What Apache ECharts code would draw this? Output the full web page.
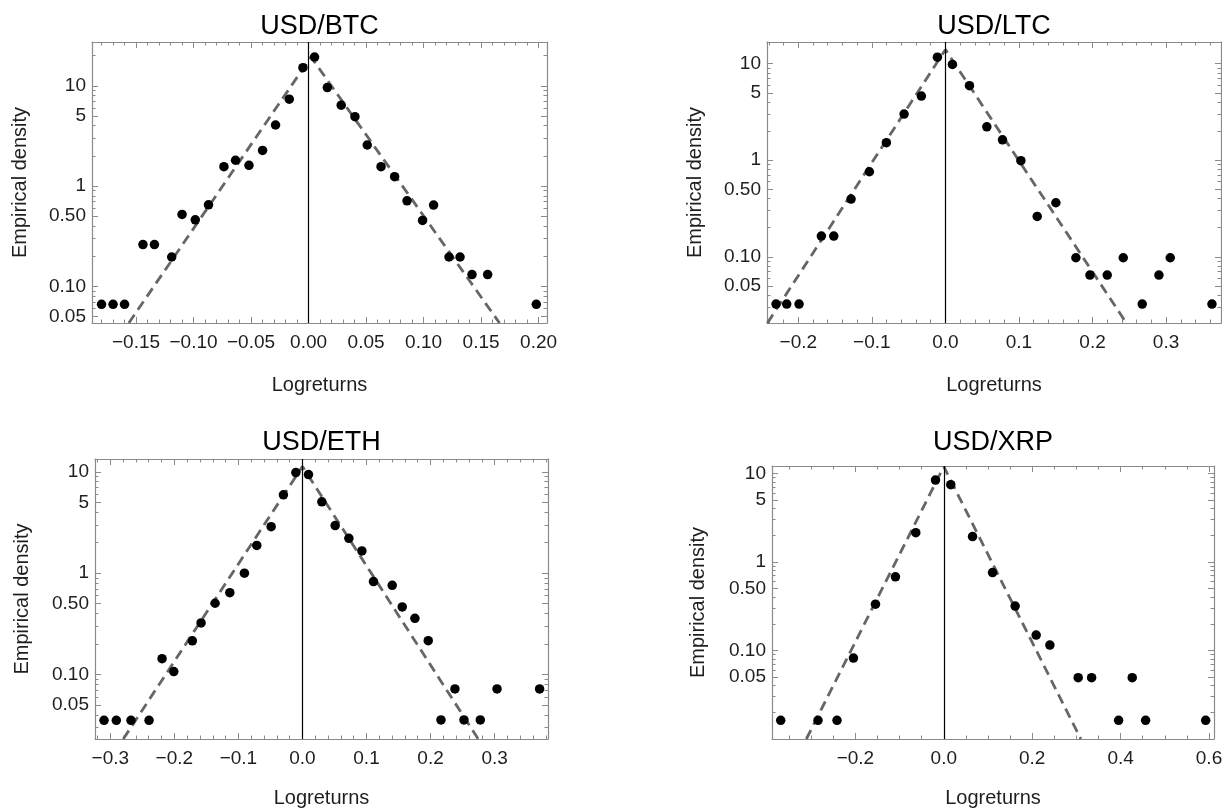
<!DOCTYPE html>
<html><head><meta charset="utf-8">
<script src="https://cdn.jsdelivr.net/npm/echarts@6/dist/echarts.min.js"></script>
<style>html,body{margin:0;padding:0;background:#fff}#c{width:1222px;height:811px}</style>
</head><body><div id="c"></div>
<script>
// ---------- DATA ----------
const btcX = [-0.180, -0.170, -0.160, -0.144, -0.134, -0.119, -0.110, -0.0985, -0.087, -0.0736, -0.0635, -0.0518, -0.040, -0.0287, -0.0168, -0.0049, 0.0052, 0.0163, 0.0284, 0.0403, 0.051, 0.063, 0.0748, 0.0856, 0.0991, 0.1087, 0.1221, 0.1317, 0.1421, 0.1557, 0.198];
const btcY = [0.066, 0.066, 0.066, 0.261, 0.261, 0.196, 0.521, 0.461, 0.650, 1.56, 1.81, 1.61, 2.27, 4.07, 7.36, 15.2, 19.4, 9.62, 6.41, 4.93, 2.57, 1.56, 1.24, 0.713, 0.454, 0.646, 0.196, 0.196, 0.131, 0.131, 0.066];
const btcFitX = [-0.1563, 0.0021, 0.166];
const btcFitY = [0.043, 19.4, 0.043];

const ltcX = [-0.2303, -0.2158, -0.199, -0.1687, -0.1518, -0.1283, -0.1034, -0.0803, -0.0562, -0.0327, -0.0109, 0.0095, 0.0327, 0.0563, 0.0776, 0.1026, 0.1248, 0.1502, 0.1774, 0.1965, 0.220, 0.2418, 0.2676, 0.2903, 0.3057, 0.3624];
const ltcY = [0.0324, 0.0324, 0.0324, 0.164, 0.164, 0.396, 0.760, 1.52, 3.01, 4.62, 11.7, 9.84, 5.92, 2.22, 1.63, 0.989, 0.262, 0.363, 0.0977, 0.0646, 0.0646, 0.0977, 0.0324, 0.0646, 0.0977, 0.0324];
const ltcFitX = [-0.242, 0.0, 0.246];
const ltcFitY = [0.0206, 14.0, 0.0206];

const ethX = [-0.3098, -0.2906, -0.2677, -0.2395, -0.2192, -0.2009, -0.1719, -0.1583, -0.1364, -0.1134, -0.0906, -0.0713, -0.0489, -0.0297, -0.0103, 0.0094, 0.0303, 0.0511, 0.0725, 0.0928, 0.1109, 0.1402, 0.1558, 0.1756, 0.1964, 0.2163, 0.2381, 0.2522, 0.2777, 0.3038, 0.3703];
const ethY = [0.0353, 0.0353, 0.0353, 0.0353, 0.1435, 0.107, 0.215, 0.323, 0.505, 0.643, 1.00, 1.88, 2.88, 5.93, 9.84, 9.40, 5.06, 2.95, 2.21, 1.66, 0.826, 0.760, 0.465, 0.359, 0.216, 0.0356, 0.0721, 0.0356, 0.0356, 0.0721, 0.0721];
const ethFitX = [-0.2797, 0.0, 0.2745];
const ethFitY = [0.0231, 11.3, 0.0231];

const xrpX = [-0.369, -0.2846, -0.2416, -0.2044, -0.1546, -0.1094, -0.0634, -0.0188, 0.0158, 0.065, 0.1103, 0.1614, 0.209, 0.240, 0.304, 0.3344, 0.3955, 0.4263, 0.4566, 0.5925];
const xrpY = [0.01625, 0.01625, 0.01625, 0.082, 0.333, 0.678, 2.14, 8.4, 7.44, 1.93, 0.757, 0.317, 0.149, 0.115, 0.0492, 0.0492, 0.01625, 0.0492, 0.01625, 0.01625];
const xrpFitX = [-0.311, 0.0, 0.310];
const xrpFitY = [0.01, 11.9, 0.01];

// tick labels
const btcXTicks = [-0.15, -0.10, -0.05, 0, 0.05, 0.10, 0.15, 0.20];
const btcXLabels = ['\u22120.15', '\u22120.10', '\u22120.05', '0.00', '0.05', '0.10', '0.15', '0.20'];
const ltcXTicks = [-0.2, -0.1, 0, 0.1, 0.2, 0.3];
const ltcXLabels = ['\u22120.2', '\u22120.1', '0.0', '0.1', '0.2', '0.3'];
const ethXTicks = [-0.3, -0.2, -0.1, 0, 0.1, 0.2, 0.3];
const ethXLabels = ['\u22120.3', '\u22120.2', '\u22120.1', '0.0', '0.1', '0.2', '0.3'];
const xrpXTicks = [-0.4, -0.2, 0, 0.2, 0.4, 0.6];
const xrpXLabels = ['\u22120.4', '\u22120.2', '0.0', '0.2', '0.4', '0.6'];
const yTicks = [0.05, 0.1, 0.5, 1, 5, 10];
const yLabels = ['0.05', '0.10', '0.50', '1', '5', '10'];
const titles = ['USD/BTC', 'USD/LTC', 'USD/ETH', 'USD/XRP'];
const xName = 'Logreturns';
const yName = 'Empirical density';

// ---------- LAYOUT ----------
const FONT = '"Liberation Sans", Arial, Helvetica, sans-serif';
const FRAME = '#8a8a8a';
const TXT = '#1e1e1e';
const panels = [
  { grid: {left: 92, top: 42, width: 455, height: 281}, xr: [-0.1883, 0.2073], yr: [0.043, 27.4], xt: btcXTicks, xl: btcXLabels, step: 0.01, x: btcX, y: btcY, fx: btcFitX, fy: btcFitY, tGap: 2, xGap: 52, yGap: 62 },
  { grid: {left: 767, top: 42, width: 454, height: 281}, xr: [-0.2426, 0.3747], yr: [0.0206, 16.8], xt: ltcXTicks, xl: ltcXLabels, step: 0.02, x: ltcX, y: ltcY, fx: ltcFitX, fy: ltcFitY, tGap: 2, xGap: 52, yGap: 62 },
  { grid: {left: 95, top: 459, width: 453, height: 280}, xr: [-0.3239, 0.3834], yr: [0.0231, 13.4], xt: ethXTicks, xl: ethXLabels, step: 0.02, x: ethX, y: ethY, fx: ethFitX, fy: ethFitY, tGap: 3, xGap: 49, yGap: 63 },
  { grid: {left: 772, top: 466, width: 442, height: 273}, xr: [-0.3887, 0.6113], yr: [0.0100, 12.1], xt: xrpXTicks, xl: xrpXLabels, step: 0.05, x: xrpX, y: xrpY, fx: xrpFitX, fy: xrpFitY, tGap: 10, xGap: 49, yGap: 64 }
];

// minor tick positions (axis decoration only)
const yMinor = [];
for (let k = -2; k <= 1; k++) for (let m = 1; m <= 9; m++) yMinor.push(+(m * Math.pow(10, k)).toPrecision(6));
function xMinor(p) {
  const out = [];
  const a = Math.ceil(p.xr[0] / p.step - 1e-9), b = Math.floor(p.xr[1] / p.step + 1e-9);
  for (let i = a; i <= b; i++) out.push(+(i * p.step).toFixed(6));
  return out;
}
function lookup(vals, labels) {
  return function (v) {
    for (let i = 0; i < vals.length; i++) {
      if (Math.abs(vals[i] - v) <= 1e-6 * Math.max(1e-3, Math.abs(vals[i]))) return labels[i];
    }
    return '';
  };
}

const grids = [], xAxes = [], yAxes = [], series = [];
panels.forEach((p, i) => {
  grids.push(Object.assign({ show: false, containLabel: false, outerBoundsMode: 'none' }, p.grid));
  const xin = xMinor(p);
  const mkX = (pos, vals, len, main, title) => ({
    type: 'value', gridIndex: i, position: pos, min: p.xr[0], max: p.xr[1],
    axisLine: { show: main || !!title, onZero: false, lineStyle: { color: FRAME, width: 1.2 } },
    axisTick: { show: true, inside: true, length: len, customValues: vals, lineStyle: { color: FRAME, width: 1 } },
    minorTick: { show: false }, splitLine: { show: false },
    axisLabel: main ? { show: true, customValues: p.xt, formatter: lookup(p.xt, p.xl), fontSize: 19, color: TXT, margin: 10, fontFamily: FONT } : { show: false },
    name: main ? xName : (title || ''), nameLocation: 'middle',
    nameGap: main ? p.xGap : p.tGap,
    nameTextStyle: main ? { fontSize: 20, color: TXT, fontFamily: FONT } : { fontSize: 27, color: '#000', fontFamily: FONT }
  });
  xAxes.push(mkX('bottom', p.xt, 6, true));
  xAxes.push(mkX('bottom', xin, 3.5, false));
  xAxes.push(mkX('top', p.xt, 6, false, titles[i]));
  xAxes.push(mkX('top', xin, 3.5, false));
  const mkY = (pos, vals, len, main, line) => ({
    type: 'log', logBase: 10, gridIndex: i, position: pos, min: p.yr[0], max: p.yr[1],
    axisLine: { show: line, onZero: false, lineStyle: { color: FRAME, width: 1.2 } },
    axisTick: { show: true, inside: true, length: len, customValues: vals, lineStyle: { color: FRAME, width: 1 } },
    minorTick: { show: false }, splitLine: { show: false },
    axisLabel: main ? { show: true, customValues: yTicks, formatter: lookup(yTicks, yLabels), fontSize: 19, color: TXT, margin: 6, fontFamily: FONT } : { show: false },
    name: main ? yName : '', nameLocation: 'middle', nameGap: p.yGap,
    nameTextStyle: { fontSize: 20, color: TXT, fontFamily: FONT }
  });
  yAxes.push(mkY('left', yTicks, 6, true, true));
  yAxes.push(mkY('left', yMinor, 3.5, false, false));
  yAxes.push(mkY('right', yTicks, 6, false, true));
  yAxes.push(mkY('right', yMinor, 3.5, false, false));

  series.push({
    type: 'line', xAxisIndex: 4 * i, yAxisIndex: 4 * i, z: 2,
    data: p.fx.map((v, j) => [v, p.fy[j]]),
    symbol: 'none', silent: true, clip: true,
    lineStyle: { color: '#666', width: 2.8, type: [10, 6], opacity: 1 }
  });
  series.push({
    type: 'scatter', xAxisIndex: 4 * i, yAxisIndex: 4 * i, z: 3,
    data: p.x.map((v, j) => [v, p.y[j]]),
    symbol: 'circle', symbolSize: 9.5, itemStyle: { color: '#000', opacity: 1 }, silent: true,
    markLine: {
      silent: true, symbol: ['none', 'none'], label: { show: false },
      lineStyle: { color: '#000', width: 1.2, type: 'solid', opacity: 1 },
      data: [{ xAxis: 0 }], animation: false
    }
  });
});

const chart = echarts.init(document.getElementById('c'), null, { renderer: 'canvas' });
chart.setOption({
  backgroundColor: '#fff', animation: false,
  textStyle: { fontFamily: FONT },
  grid: grids, xAxis: xAxes, yAxis: yAxes, series: series
});
</script>
</body></html>
